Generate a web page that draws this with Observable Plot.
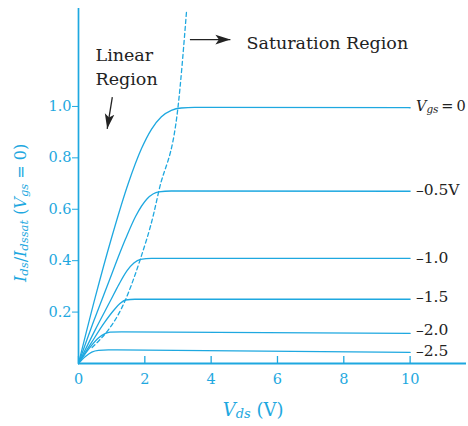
<!DOCTYPE html>
<html><head><meta charset="utf-8">
<script src="https://cdn.jsdelivr.net/npm/d3@7"></script>
<script src="https://cdn.jsdelivr.net/npm/@observablehq/plot@0.6"></script>
<style>body{margin:0;background:#fff}</style>
</head><body><div id="chart"></div>
<script>
// ---- data ----
const xTicks = [0, 2, 4, 6, 8, 10];
const yTicks = [0.2, 0.4, 0.6, 0.8, 1.0];

const vgsValues = [0, -0.5, -1.0, -1.5, -2.0, -2.5];
const vgsLabels = ["Vgs = 0", "–0.5V", "–1.0", "–1.5", "–2.0", "–2.5"];
const vgsLabelY = [0.997, 0.671, 0.41, 0.258, 0.128, 0.046];
const vgsLabelX = 10.19;

const vds_0  = [0, 0.5, 1.0, 1.5, 1.9, 2.2, 2.5, 2.8, 3.1, 3.5, 10];
const ids_0  = [0, 0.255, 0.49, 0.70, 0.836, 0.911, 0.96, 0.985, 0.994, 0.996, 0.995];
const vds_05 = [0, 0.46, 0.92, 1.12, 1.42, 1.72, 2.07, 2.42, 2.8, 10];
const ids_05 = [0, 0.165, 0.32, 0.388, 0.485, 0.572, 0.641, 0.668, 0.671, 0.67];
const vds_10 = [0, 0.5, 0.97, 1.22, 1.47, 1.67, 1.87, 2.2, 10];
const ids_10 = [0, 0.13, 0.246, 0.308, 0.362, 0.391, 0.405, 0.409, 0.409];
const vds_15 = [0, 0.4, 0.76, 1.07, 1.25, 1.42, 1.7, 10];
const ids_15 = [0, 0.083, 0.155, 0.208, 0.233, 0.247, 0.25, 0.25];
const vds_20 = [0, 0.3, 0.61, 0.8, 0.95, 1.3, 10];
const ids_20 = [0, 0.055, 0.10, 0.116, 0.122, 0.123, 0.117];
const vds_25 = [0, 0.2, 0.4, 0.6, 0.9, 10];
const ids_25 = [0, 0.026, 0.044, 0.051, 0.053, 0.043];

const satVds = [0.41, 1.42, 1.87, 2.27, 2.42, 3.0, 3.26];
const satIds = [0.062, 0.249, 0.408, 0.584, 0.67, 0.997, 1.374];

const annotText = ["Saturation Region", "Linear", "Region"];
const annotX = [5.066, 0.513, 0.513];
const annotY = [1.246, 1.197, 1.107];

const arrowX1 = [3.36, 1.02];
const arrowY1 = [1.26, 1.036];
const arrowX2 = [4.58, 0.865];
const arrowY2 = [1.26, 0.913];

const xLabelPos = [5.28, -0.206];
const yLabelPos = [-1.568, 0.584];

// ---- build tables ----
const curveX = [vds_0, vds_05, vds_10, vds_15, vds_20, vds_25];
const curveY = [ids_0, ids_05, ids_10, ids_15, ids_20, ids_25];
const curves = vgsValues.flatMap((v, k) => curveX[k].map((x, i) => ({vgs: v, vds: x, ids: curveY[k][i]})));
const sat = satVds.map((x, i) => ({vds: x, ids: satIds[i]}));
const annots = annotText.map((t, i) => ({t, x: annotX[i], y: annotY[i]}));
const arrows = arrowX1.map((x1, i) => ({x1, y1: arrowY1[i], x2: arrowX2[i], y2: arrowY2[i]}));

const CYAN = "#1ea8e0";
const FONT = "DejaVu Serif";

const plot = Plot.plot({
  width: 468, height: 426,
  marginLeft: 78, marginRight: 2, marginTop: 8, marginBottom: 63,
  style: {fontFamily: FONT, fontSize: "14.5px", color: CYAN, background: "white"},
  x: {domain: [0, 11.7], ticks: xTicks, tickSize: 0, tickPadding: 10, label: null, tickFormat: d3.format("d")},
  y: {domain: [0, 1.381], ticks: yTicks, tickSize: 6, tickPadding: 1, label: null, tickFormat: d3.format(".1f")},
  marks: [
    Plot.tickX(xTicks, {x: d => d, stroke: CYAN, strokeWidth: 1.3, insetTop: 348}),
    Plot.line(curves, {x: "vds", y: "ids", z: "vgs", stroke: CYAN, strokeWidth: 1.3, curve: "monotone-x"}),
    Plot.line(sat, {x: "vds", y: "ids", stroke: CYAN, strokeWidth: 1.3, strokeDasharray: "4,3", curve: "monotone-x"}),
    Plot.ruleX([0], {stroke: CYAN, strokeWidth: 1.7}),
    Plot.ruleY([0], {stroke: CYAN, strokeWidth: 2.2}),
    Plot.link(arrows, {x1: "x1", y1: "y1", x2: "x2", y2: "y2", stroke: "#222", strokeWidth: 1.3}),
    Plot.text(annots, {x: "x", y: "y", text: "t", textAnchor: "start", fill: "#222", fontSize: 17.5, fontFamily: FONT})
  ]
});
document.getElementById("chart").appendChild(plot);

// ---- arrowheads & rich text (positions through Plot's scales) ----
const svg = d3.select(plot);
const sx = v => plot.scale("x").apply(v);
const sy = v => plot.scale("y").apply(v);
svg.append("defs").append("marker")
  .attr("id", "ahead").attr("viewBox", "-15 -6 16 12")
  .attr("refX", 0).attr("refY", 0)
  .attr("markerWidth", 16).attr("markerHeight", 12)
  .attr("markerUnits", "userSpaceOnUse").attr("orient", "auto")
  .append("path").attr("d", "M0,0L-15,-4.8L-11.5,0L-15,4.8Z").attr("fill", "#222");
svg.select('g[aria-label="link"]').selectAll("path").attr("marker-end", "url(#ahead)");

function rich(px, py, parts, {size, anchor = "start", rotate = 0, fill}) {
  const t = svg.append("text")
    .attr("transform", `translate(${px},${py})` + (rotate ? ` rotate(${rotate})` : ""))
    .attr("text-anchor", anchor).attr("font-family", FONT)
    .attr("font-size", size).attr("fill", fill);
  let shifted = 0;
  for (const p of parts) {
    const ts = t.append("tspan").text(p.t);
    if (p.i) ts.attr("font-style", "italic");
    if (p.sub) {
      ts.attr("font-size", size * 0.72);
      if (!shifted) { ts.attr("dy", 2); shifted = 2; }
    } else if (shifted) { ts.attr("dy", -shifted); shifted = 0; }
  }
  return t;
}

// right-hand Vgs labels
vgsLabels.forEach((lab, i) => {
  const first = lab.startsWith("Vgs");
  const size = first ? 14.5 : 15.5;
  const parts = first
    ? [{t: "V", i: true}, {t: "gs", i: true, sub: true}, {t: "\u2009=\u20090"}]
    : [{t: lab}];
  rich(sx(vgsLabelX), sy(vgsLabelY[i]) + 0.32 * size, parts, {size, fill: "#222"});
});

// axis titles
rich(sx(xLabelPos[0]), sy(xLabelPos[1]),
  [{t: "V", i: true}, {t: "ds", i: true, sub: true}, {t: " (V)"}],
  {size: 18, anchor: "middle", fill: CYAN});
rich(sx(yLabelPos[0]), sy(yLabelPos[1]),
  [{t: "I", i: true}, {t: "ds", i: true, sub: true}, {t: "/"}, {t: "I", i: true}, {t: "dssat", i: true, sub: true},
   {t: " ("}, {t: "V", i: true}, {t: "gs", i: true, sub: true}, {t: " = 0)"}],
  {size: 16, anchor: "middle", rotate: -90, fill: CYAN});
</script>
</body></html>
